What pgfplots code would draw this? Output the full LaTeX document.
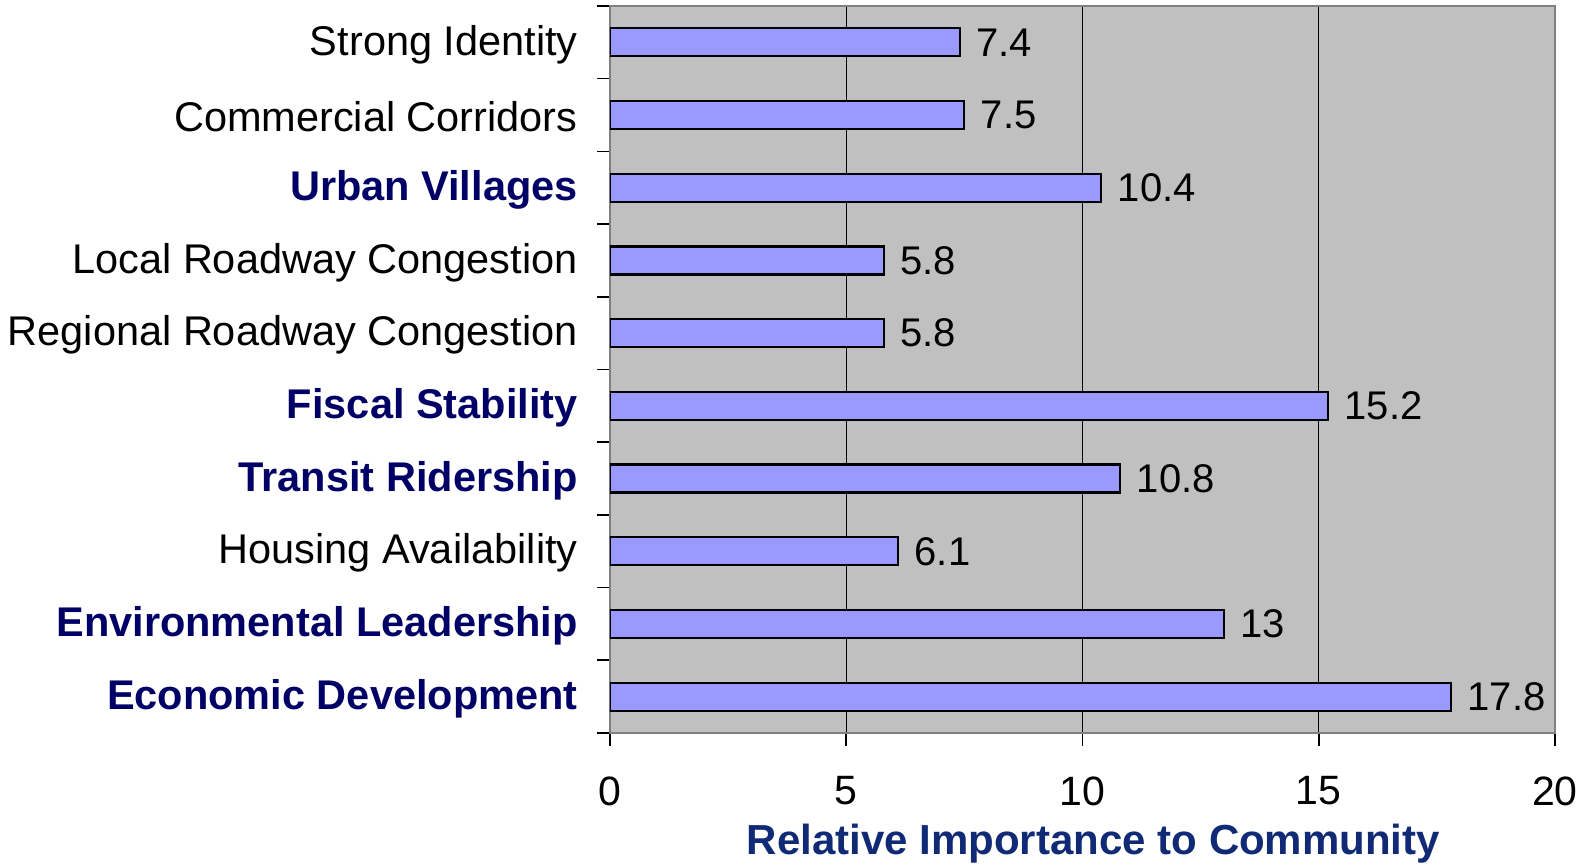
\documentclass[border=0pt]{standalone}
\usepackage{fontspec}
\setmainfont{Liberation Sans}
\usepackage{pgfplots}
\pgfplotsset{compat=1.18}
\definecolor{barfill}{RGB}{153,153,255}
\definecolor{plotbg}{RGB}{192,192,192}
\definecolor{navy}{RGB}{0,0,102}
\definecolor{xlab}{RGB}{16,42,117}
\newcommand{\bl}[1]{\textcolor{navy}{\bfseries #1}}
\begin{document}
\begin{tikzpicture}
\begin{axis}[
  scale only axis, width=472.5pt, height=363.5pt,
  xbar, bar width=14pt,
  xmin=0, xmax=20, ymin=-0.5, ymax=9.5,
  axis background/.style={fill=plotbg},
  axis line style={draw=black!50, line width=1pt},
  xtick={0,5,...,20},
  xmajorgrids, grid style={black, line width=0.6pt},
  tick align=outside, major tick length=6.5pt,
  tick style={black, line width=0.8pt},
  tick pos=left,
  ytick={-0.5,0.5,...,9.5}, yticklabels={},
  extra y ticks={0,1,2,3,4,5,6,7,8,9},
  extra y tick labels={\bl{Economic Development},\bl{Environmental Leadership},Housing Availability,\bl{Transit Ridership},\bl{Fiscal Stability},Regional Roadway Congestion,Local Roadway Congestion,\bl{Urban Villages},Commercial Corridors,Strong Identity},
  extra y tick style={major tick length=0pt, yticklabel style={inner sep=0pt, xshift=-16pt, yshift=-1pt}},
  yticklabel style={font=\fontsize{20.75}{24}\selectfont},
  xticklabel style={font=\fontsize{20.5}{24}\selectfont, /pgf/number format/assume math mode=true, yshift=-11.7pt},
  xlabel={Relative Importance to Community},
  xlabel style={font=\fontsize{21}{25}\selectfont\bfseries, text=xlab, xshift=5.5pt, yshift=-2.5pt},
  nodes near coords, point meta=explicit symbolic,
  nodes near coords align={horizontal},
  every node near coord/.append style={font=\fontsize{20}{24}\selectfont, inner sep=0pt, anchor=west, xshift=7.7pt, text=black},
]
\addplot[fill=barfill, draw=black, line width=1.1pt] coordinates {
  (17.8,0) [17.8]
  (13,1) [13]
  (6.1,2) [6.1]
  (10.8,3) [10.8]
  (15.2,4) [15.2]
  (5.8,5) [5.8]
  (5.8,6) [5.8]
  (10.4,7) [10.4]
  (7.5,8) [7.5]
  (7.4,9) [7.4]
};
\end{axis}
\pgfresetboundingbox
\path (-305pt,-66pt) rectangle (491pt,366.5pt);
\end{tikzpicture}
\end{document}
